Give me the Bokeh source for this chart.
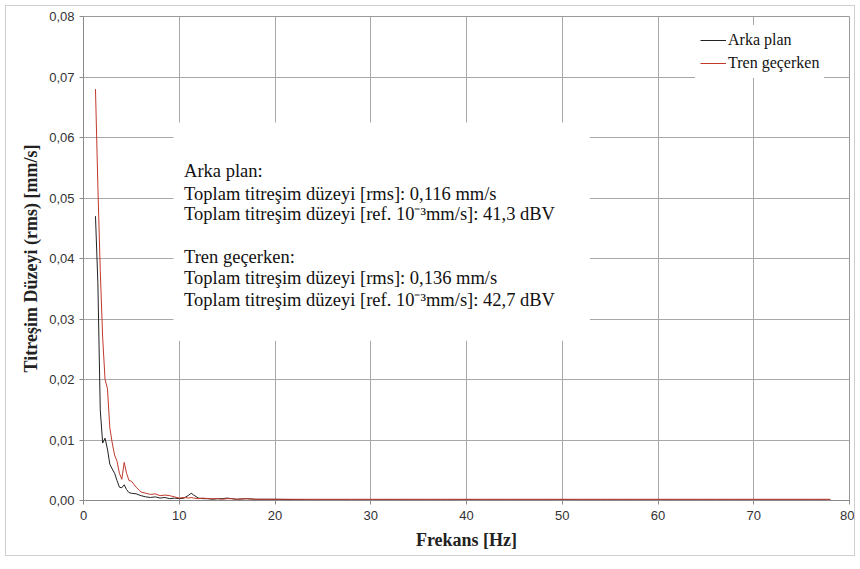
from bokeh.plotting import figure
from bokeh.models import (Range1d, BoxAnnotation, Label, Legend, LegendItem,
                          CustomJSTickFormatter, FixedTicker)
from bokeh.embed import file_html
from bokeh.resources import INLINE

# ---- data ----
freq = [1.25, 1.5, 1.75, 2.0, 2.25, 2.5, 2.75, 3.0, 3.25, 3.5, 3.75, 4.0, 4.25, 4.5, 4.75, 5.0,
        5.5, 6.0, 6.5, 7.0, 7.5, 8.0, 8.5, 9.0, 9.5, 10.0, 10.5, 11.0, 11.25, 11.5,
        12.0, 12.5, 13.0, 13.5, 14.0, 14.5, 15.0, 15.5, 16.0, 17.0, 18.0, 19.0, 20.0,
        22, 24, 26, 28, 30, 32, 34, 36, 38, 40, 42, 44, 46, 48, 50, 52, 54, 56, 58,
        60, 62, 64, 66, 68, 70, 72, 74, 76, 78]

arka_plan = [0.047, 0.036, 0.015, 0.0095, 0.0103, 0.0085, 0.006, 0.0052, 0.0045, 0.0033,
             0.0022, 0.0021, 0.0026, 0.0018, 0.0013, 0.0012,
             0.0011, 0.0008, 0.0006, 0.0005, 0.0006, 0.0004, 0.0005, 0.0003, 0.0004, 0.0003,
             0.0004, 0.0009, 0.0012, 0.0009,
             0.0004, 0.0003, 0.0003, 0.0002, 0.0003, 0.0003, 0.0004, 0.0003, 0.0002,
             0.0003, 0.0002, 0.0002, 0.0002,
             0.00015, 0.0001, 0.00012, 0.0001, 0.0001, 0.00012, 0.0001, 0.0001, 0.0001,
             0.00012, 0.0001, 0.0001, 0.0001, 0.0001, 0.00012, 0.0001, 0.0001, 0.0001,
             0.0001, 0.0001, 0.0001, 0.0001, 0.0001, 0.0001, 0.0001, 0.0001, 0.0001,
             0.0001, 0.0001]

tren_gecerken = [0.068, 0.052, 0.038, 0.027, 0.020, 0.0185, 0.012, 0.0095, 0.0075, 0.0065,
                 0.0045, 0.0035, 0.0063, 0.0045, 0.0033, 0.0032,
                 0.0022, 0.0014, 0.0012, 0.0010, 0.0011, 0.0008, 0.0009, 0.0008, 0.0006,
                 0.0004, 0.0005, 0.0004, 0.0005, 0.0004,
                 0.0003, 0.0004, 0.0003, 0.0003, 0.0003, 0.0002, 0.0003, 0.0003, 0.0002,
                 0.0003, 0.0002, 0.0002, 0.0002,
                 0.0002, 0.0002, 0.0002, 0.0002, 0.0002, 0.0002, 0.0002, 0.0002, 0.0002,
                 0.0002, 0.0002, 0.0002, 0.0002, 0.0002, 0.0002, 0.0002, 0.0002, 0.0002,
                 0.0002, 0.0002, 0.0002, 0.0002, 0.0002, 0.0002, 0.0002, 0.0002, 0.0002,
                 0.0002, 0.0002]

x_ticks = [0, 10, 20, 30, 40, 50, 60, 70, 80]
y_ticks = [0.0, 0.01, 0.02, 0.03, 0.04, 0.05, 0.06, 0.07, 0.08]

series_names = ["Arka plan", "Tren geçerken"]
info_lines = [
    "Arka plan:",
    "Toplam titreşim düzeyi [rms]:  0,116 mm/s",
    "Toplam titreşim düzeyi [ref. 10⁻³mm/s]: 41,3 dBV",
    "Tren geçerken:",
    "Toplam titreşim düzeyi [rms]:  0,136 mm/s",
    "Toplam titreşim düzeyi [ref. 10⁻³mm/s]: 42,7 dBV",
]

SERIF = "Liberation Serif"
SANS = "Liberation Sans"

p = figure(width=850, height=551, x_range=Range1d(0, 80), y_range=Range1d(0, 0.08),
           output_backend="svg", toolbar_location=None,
           min_border_left=77, min_border_right=7, min_border_top=10, min_border_bottom=57)
p.margin = (5, 5, 5, 5)
p.styles = {"border": "1px solid #cfcfcf"}
p.background_fill_color = "white"
p.border_fill_color = "white"
p.outline_line_color = "#9a9a9a"

# grid
p.xgrid.ticker = FixedTicker(ticks=x_ticks)
p.ygrid.ticker = FixedTicker(ticks=y_ticks)
for g in (p.xgrid, p.ygrid):
    g.grid_line_color = "#a8a8a8"
    g.grid_line_width = 1

# axes
p.xaxis.ticker = FixedTicker(ticks=x_ticks)
p.yaxis.ticker = FixedTicker(ticks=y_ticks)
p.yaxis.formatter = CustomJSTickFormatter(code="return tick.toFixed(2).replace('.', ',');")
for ax in (p.xaxis, p.yaxis):
    ax.axis_line_color = "#8a8a8a"
    ax.major_tick_line_color = "#8a8a8a"
    ax.major_tick_in = 0
    ax.major_tick_out = 4
    ax.minor_tick_line_color = None
    ax.major_label_text_font = SANS
    ax.major_label_text_font_size = "13px"
    ax.major_label_text_color = "#333333"
    ax.axis_label_text_font = SERIF
    ax.axis_label_text_font_style = "bold"
    ax.axis_label_text_font_size = "18px"
    ax.axis_label_text_color = "#222222"
p.xaxis.axis_label = "Frekans [Hz]"
p.yaxis.axis_label = "Titreşim Düzeyi (rms) [mm/s]"
p.xaxis.major_label_standoff = 6
p.yaxis.major_label_standoff = 5
p.xaxis.axis_label_standoff = 7
p.yaxis.axis_label_standoff = 5

# lines
r_arka = p.line(freq, arka_plan, line_color="#222222", line_width=1)
r_tren = p.line(freq, tren_gecerken, line_color="#c0392b", line_width=1)

# info box
box = BoxAnnotation(left=9.4, right=52.9, bottom=0.0264, top=0.0625,
                    fill_color="white", fill_alpha=1.0, line_alpha=0, level="underlay")
p.add_layout(box)
info_y = [0.0544, 0.0507, 0.0473, 0.0402, 0.0367, 0.0332]
for txt, yy in zip(info_lines, info_y):
    p.add_layout(Label(x=10.5, y=yy, text=txt, text_font=SERIF, text_font_size="18.5px",
                       text_color="#111111", text_baseline="alphabetic", text_align="left"))

legend = Legend(items=[LegendItem(label=series_names[0], renderers=[r_arka]),
                       LegendItem(label=series_names[1], renderers=[r_tren])],
                location=(612, 422))
legend.label_text_font = SERIF
legend.label_text_font_size = "16px"
legend.label_text_color = "#111111"
legend.border_line_alpha = 0
legend.background_fill_color = "white"
legend.background_fill_alpha = 1.0
legend.padding = 5
legend.spacing = 3
legend.label_height = 20
legend.glyph_height = 20
legend.glyph_width = 26
legend.label_standoff = 2
legend.margin = 0
p.add_layout(legend)

html = file_html(p, INLINE)
open("out.html", "w").write(html)
